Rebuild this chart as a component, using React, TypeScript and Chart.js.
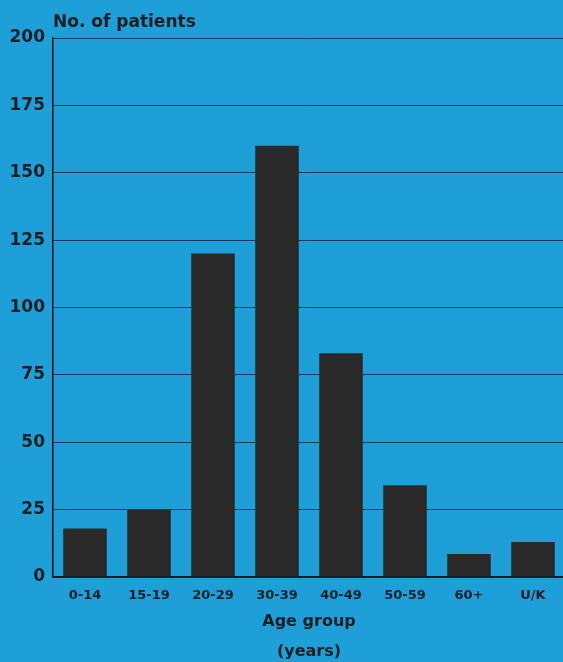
import React, { useEffect, useRef } from "react";
import { Chart, registerables } from "chart.js";

Chart.register(...registerables);

const categories = ["0-14", "15-19", "20-29", "30-39", "40-49", "50-59", "60+", "U/K"];
const patients = [18, 25, 120, 160, 83, 34, 8.5, 13];
const yTicks = [0, 25, 50, 75, 100, 125, 150, 175, 200];
const yTitle = "No. of patients";
const xTitle = ["Age group", "(years)"];

const BG = "#1e9fd8";
const INK = "#1b1e22";
const FONT = "'DejaVu Sans', sans-serif";

const topTitlePlugin = {
  id: "topTitle",
  afterDraw(chart: any) {
    const { ctx, chartArea } = chart;
    ctx.save();
    ctx.fillStyle = INK;
    ctx.font = `bold 17px ${FONT}`;
    ctx.textAlign = "left";
    ctx.textBaseline = "alphabetic";
    ctx.fillText(yTitle, chartArea.left, chartArea.top - 11);
    ctx.restore();
  },
};

export default function App() {
  const ref = useRef<HTMLCanvasElement | null>(null);

  useEffect(() => {
    if (!ref.current) return;
    const chart = new Chart(ref.current, {
      type: "bar",
      data: {
        labels: categories,
        datasets: [
          {
            data: patients,
            backgroundColor: "#2a2a2a",
            borderWidth: 0,
            barPercentage: 0.68,
            categoryPercentage: 1,
          },
        ],
      },
      plugins: [topTitlePlugin],
      options: {
        animation: false,
        responsive: false,
        devicePixelRatio: 1,
        layout: { padding: { top: 38, left: 0, right: 0, bottom: 0 } },
        plugins: {
          legend: { display: false },
          tooltip: { enabled: false },
          title: { display: false },
        },
        scales: {
          x: {
            grid: { display: false, drawTicks: false },
            border: { display: true, color: "#111", width: 1.5 },
            ticks: {
              color: INK,
              font: { family: FONT, size: 13, weight: "bold" },
              padding: 11,
              maxRotation: 0,
              autoSkip: false,
            },
            title: {
              display: true,
              text: xTitle,
              color: INK,
              font: { family: FONT, size: 16, weight: "bold", lineHeight: 1.875 },
              padding: { top: 0, bottom: -5 },
            },
            afterFit(scale: any) {
              scale.height = 85;
            },
          },
          y: {
            min: 0,
            max: 200,
            afterBuildTicks(scale: any) {
              scale.ticks = yTicks.map((v) => ({ value: v }));
            },
            grid: { color: "#173a5c", lineWidth: 1, drawTicks: false },
            border: { display: true, color: "#111", width: 1.5 },
            ticks: {
              color: INK,
              font: { family: FONT, size: 17, weight: "bold" },
              padding: 8,
            },
            afterFit(scale: any) {
              scale.width = 53;
            },
          },
        },
      },
    });
    return () => chart.destroy();
  }, []);

  return (
    <div
      style={{
        position: "absolute",
        top: 0,
        left: 0,
        width: 563,
        height: 662,
        overflow: "hidden",
        background: BG,
      }}
    >
      <canvas ref={ref} width={565} height={662} style={{ display: "block" }} />
    </div>
  );
}
